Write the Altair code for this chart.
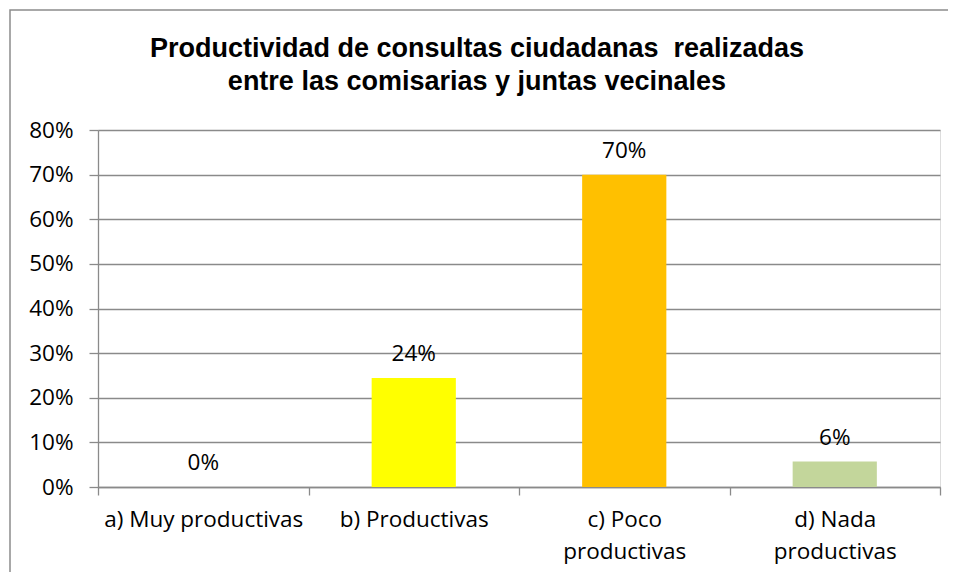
import altair as alt
import pandas as pd

categories = ["a) Muy productivas", "b) Productivas", "c) Poco productivas", "d) Nada productivas"]
label_lines = [["a) Muy productivas"], ["b) Productivas"], ["c) Poco", "productivas"], ["d) Nada", "productivas"]]
values = [0.0, 0.244, 0.70, 0.057]
colors = ["#4F81BD", "#FFFF00", "#FFC000", "#C3D69B"]
y_ticks = [0, 0.1, 0.2, 0.3, 0.4, 0.5, 0.6, 0.7, 0.8]
title_lines = ["Productividad de consultas ciudadanas\u00a0 realizadas",
               "entre las comisarias y juntas vecinales"]

df = pd.DataFrame({"cat": categories, "val": values})

# label expression for multi-line category labels
expr = "datum.label"
for cat, lines in reversed(list(zip(categories, label_lines))):
    arr = "[" + ",".join("'" + l + "'" for l in lines) + "]"
    expr = f"datum.label == '{cat}' ? {arr} : ({expr})"

FONT = "Open Sans"
FS = 22.5
GRID = "#8a8a8a"

x_enc = alt.X("cat:N", sort=categories, title=None,
              scale=alt.Scale(paddingInner=0, paddingOuter=0),
              axis=alt.Axis(labelAngle=0, tickBand="extent", labelExpr=expr,
                            labelFont=FONT, labelFontSize=FS, labelColor="#000000",
                            labelPadding=13, labelLineHeight=32, labelBaseline="top",
                            labelLimit=400,
                            tickSize=8, tickColor=GRID, tickWidth=1.3,
                            domainColor=GRID, domainWidth=1.3, grid=False))
y_enc = alt.Y("val:Q", title=None,
              scale=alt.Scale(domain=[0, 0.8], nice=False),
              axis=alt.Axis(format=".0%", values=y_ticks, labelFont=FONT, labelFontSize=FS,
                            labelColor="#000000", labelPadding=16, tickSize=9,
                            tickColor=GRID, tickWidth=1.3, domainColor=GRID, domainWidth=1.3,
                            grid=True, gridColor=GRID, gridWidth=1.3))

base = alt.Chart(df)

bars = base.mark_bar(width=alt.RelativeBandSize(0.40)).encode(
    x=x_enc, y=y_enc,
    color=alt.Color("cat:N", scale=alt.Scale(domain=categories, range=colors), legend=None),
)

text = base.mark_text(baseline="alphabetic", dy=-17, font=FONT, fontSize=FS, color="#000000").encode(
    x=alt.X("cat:N", sort=categories),
    y=alt.Y("val:Q"),
    text=alt.Text("val:Q", format=".0%"),
)

frame = alt.Chart(alt.Data(values=[{}])).mark_rect(
    fill=None, stroke="#8c8c8c", strokeWidth=1.5
).encode(x=alt.value(-88), x2=alt.value(880), y=alt.value(-120), y2=alt.value(480))

title = alt.Chart(alt.Data(values=[{}])).mark_text(
    text=title_lines, font="Liberation Sans", fontSize=27, fontWeight="bold",
    color="#000000", lineHeight=33, align="center", baseline="alphabetic"
).encode(x=alt.value(379), y=alt.value(-73))

chart = alt.layer(frame, bars, text, title).properties(
    width=842, height=357,
    padding={"left": 90, "top": 122, "right": 8, "bottom": 85},
    autosize=alt.AutoSizeParams(type="none"),
).configure_view(stroke=None).configure(background="#ffffff")

chart.save("out.html", embed_options={"renderer": "svg", "actions": False})
